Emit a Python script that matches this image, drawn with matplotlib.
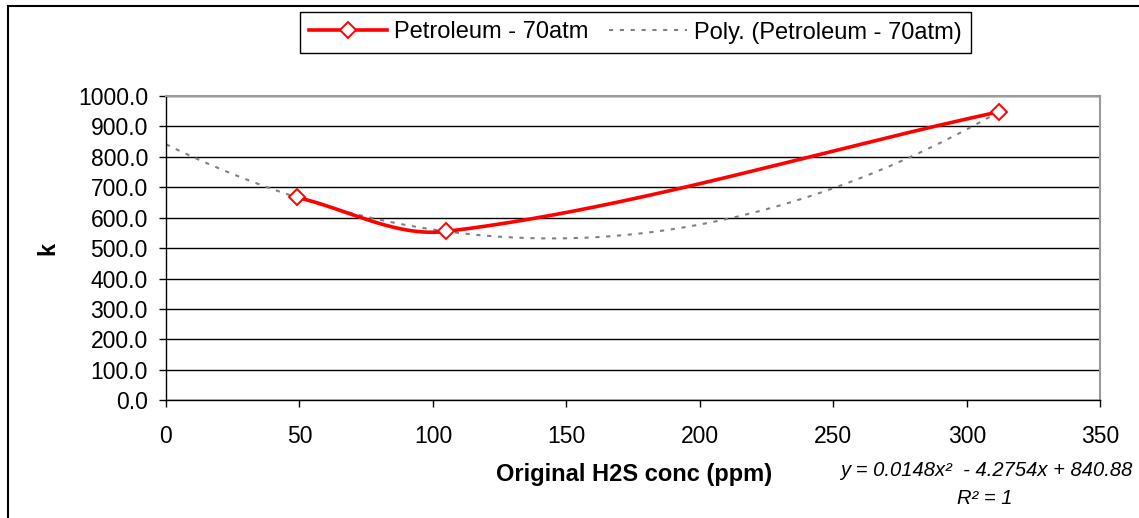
import numpy as np
import matplotlib
matplotlib.use("Agg")
import matplotlib.pyplot as plt
from matplotlib.patches import Rectangle

# ---- data ----
conc = [49, 105, 312]          # Original H2S conc (ppm)
k_vals = [667, 555, 948]       # k
series_label = "Petroleum - 70atm"
trend_label = "Poly. (Petroleum - 70atm)"
y_ticks = [0, 100, 200, 300, 400, 500, 600, 700, 800, 900, 1000]
x_ticks = [0, 50, 100, 150, 200, 250, 300, 350]
eq_text = "y = 0.0148x\u00b2  - 4.2754x + 840.88"
r2_text = "R\u00b2 = 1"

plt.rcParams['font.family'] = ['Liberation Sans', 'DejaVu Sans']

W, H = 1139, 518
fig = plt.figure(figsize=(W / 100, H / 100), dpi=100)
ax = fig.add_axes([166 / W, 1 - 400.3 / H, (1100.3 - 166) / W, (400.3 - 96) / H])
ax.set_xlim(0, 350)
ax.set_ylim(0, 1000)


def smooth_curve(xs, ys, axis, nseg=80):
    """Excel-like smoothed line: cubic Bezier built in display space."""
    P = axis.transData.transform(np.column_stack([xs, ys]).astype(float))
    n = len(P)
    out = []
    for i in range(n - 1):
        a, b = P[i], P[i + 1]
        seg = np.linalg.norm(b - a)
        d = (P[i + 1] - P[i - 1]) if i > 0 else (b - a)
        c1 = a + d / np.linalg.norm(d) * seg / 3.0
        d = (P[i + 2] - P[i]) if i + 2 < n else (b - a)
        c2 = b - d / np.linalg.norm(d) * seg / 3.0
        for t in np.linspace(0, 1, nseg):
            out.append(((1 - t) ** 3) * a + 3 * ((1 - t) ** 2) * t * c1
                       + 3 * (1 - t) * t ** 2 * c2 + t ** 3 * b)
    return axis.transData.inverted().transform(np.array(out))


red = '#FF0000'
sm = smooth_curve(conc, k_vals, ax)
ax.plot(sm[:, 0], sm[:, 1], color=red, lw=2.6, zorder=3, solid_capstyle='round')
ax.plot(conc, k_vals, linestyle='none', marker='D', markersize=8.5,
        markerfacecolor='white', markeredgecolor=red, markeredgewidth=1.4, zorder=4)
h1, = ax.plot([], [], color=red, lw=2.6, marker='D', markersize=8.5,
              markerfacecolor='white', markeredgecolor=red, markeredgewidth=1.4)

# polynomial trend line
coef = np.polyfit(conc, k_vals, 2)
xt = np.linspace(0, max(conc), 300)
h2, = ax.plot(xt, np.polyval(coef, xt), color='#808080', lw=1.5,
              linestyle=(0, (2.0, 3.2)), zorder=2)

ax.set_xticks(x_ticks)
ax.set_yticks(y_ticks)
ax.set_yticklabels([f"{v:.1f}" for v in y_ticks])
ax.set_xticklabels([str(v) for v in x_ticks])
ax.tick_params(axis='both', direction='out', length=5, width=1, color='black',
               labelsize=16.5)
ax.tick_params(axis='y', pad=8)
ax.tick_params(axis='x', pad=13)
ax.yaxis.grid(True, color='black', lw=1)
ax.set_axisbelow(True)
for side in ['top', 'right']:
    ax.spines[side].set_color('#9a9a9a')
    ax.spines[side].set_linewidth(1.5)
for side in ['left', 'bottom']:
    ax.spines[side].set_color('black')
    ax.spines[side].set_linewidth(1)

fig.text(634 / W, 1 - 475 / H, "Original H2S conc (ppm)", fontsize=17,
         fontweight='bold', ha='center', va='center')
fig.text(48 / W, 1 - 248 / H, "k", fontsize=17, fontweight='bold',
         rotation=90, ha='center', va='center')

fig.text(1133 / W, 1 - 471 / H, eq_text, fontsize=14.5, style='italic',
         ha='right', va='center')
fig.text(985 / W, 1 - 499 / H, r2_text, fontsize=14.5, style='italic',
         ha='center', va='center')

leg = fig.legend([h1, h2], [series_label, trend_label], ncol=2,
                 loc='center', bbox_to_anchor=(635.5 / W, 1 - 32.5 / H),
                 fontsize=17, frameon=True, fancybox=False, shadow=False,
                 handlelength=3.3, columnspacing=0.85, handletextpad=0.3,
                 borderpad=0.4, borderaxespad=0, edgecolor='black', framealpha=1)
leg.get_frame().set_linewidth(1.0)

# outer chart border
fig.patches.append(Rectangle((8 / W, -0.1), 1.2, 1 - 6 / H + 0.1,
                             transform=fig.transFigure, fill=False,
                             edgecolor='black', lw=1.5))

fig.savefig("out.png", dpi=100)
